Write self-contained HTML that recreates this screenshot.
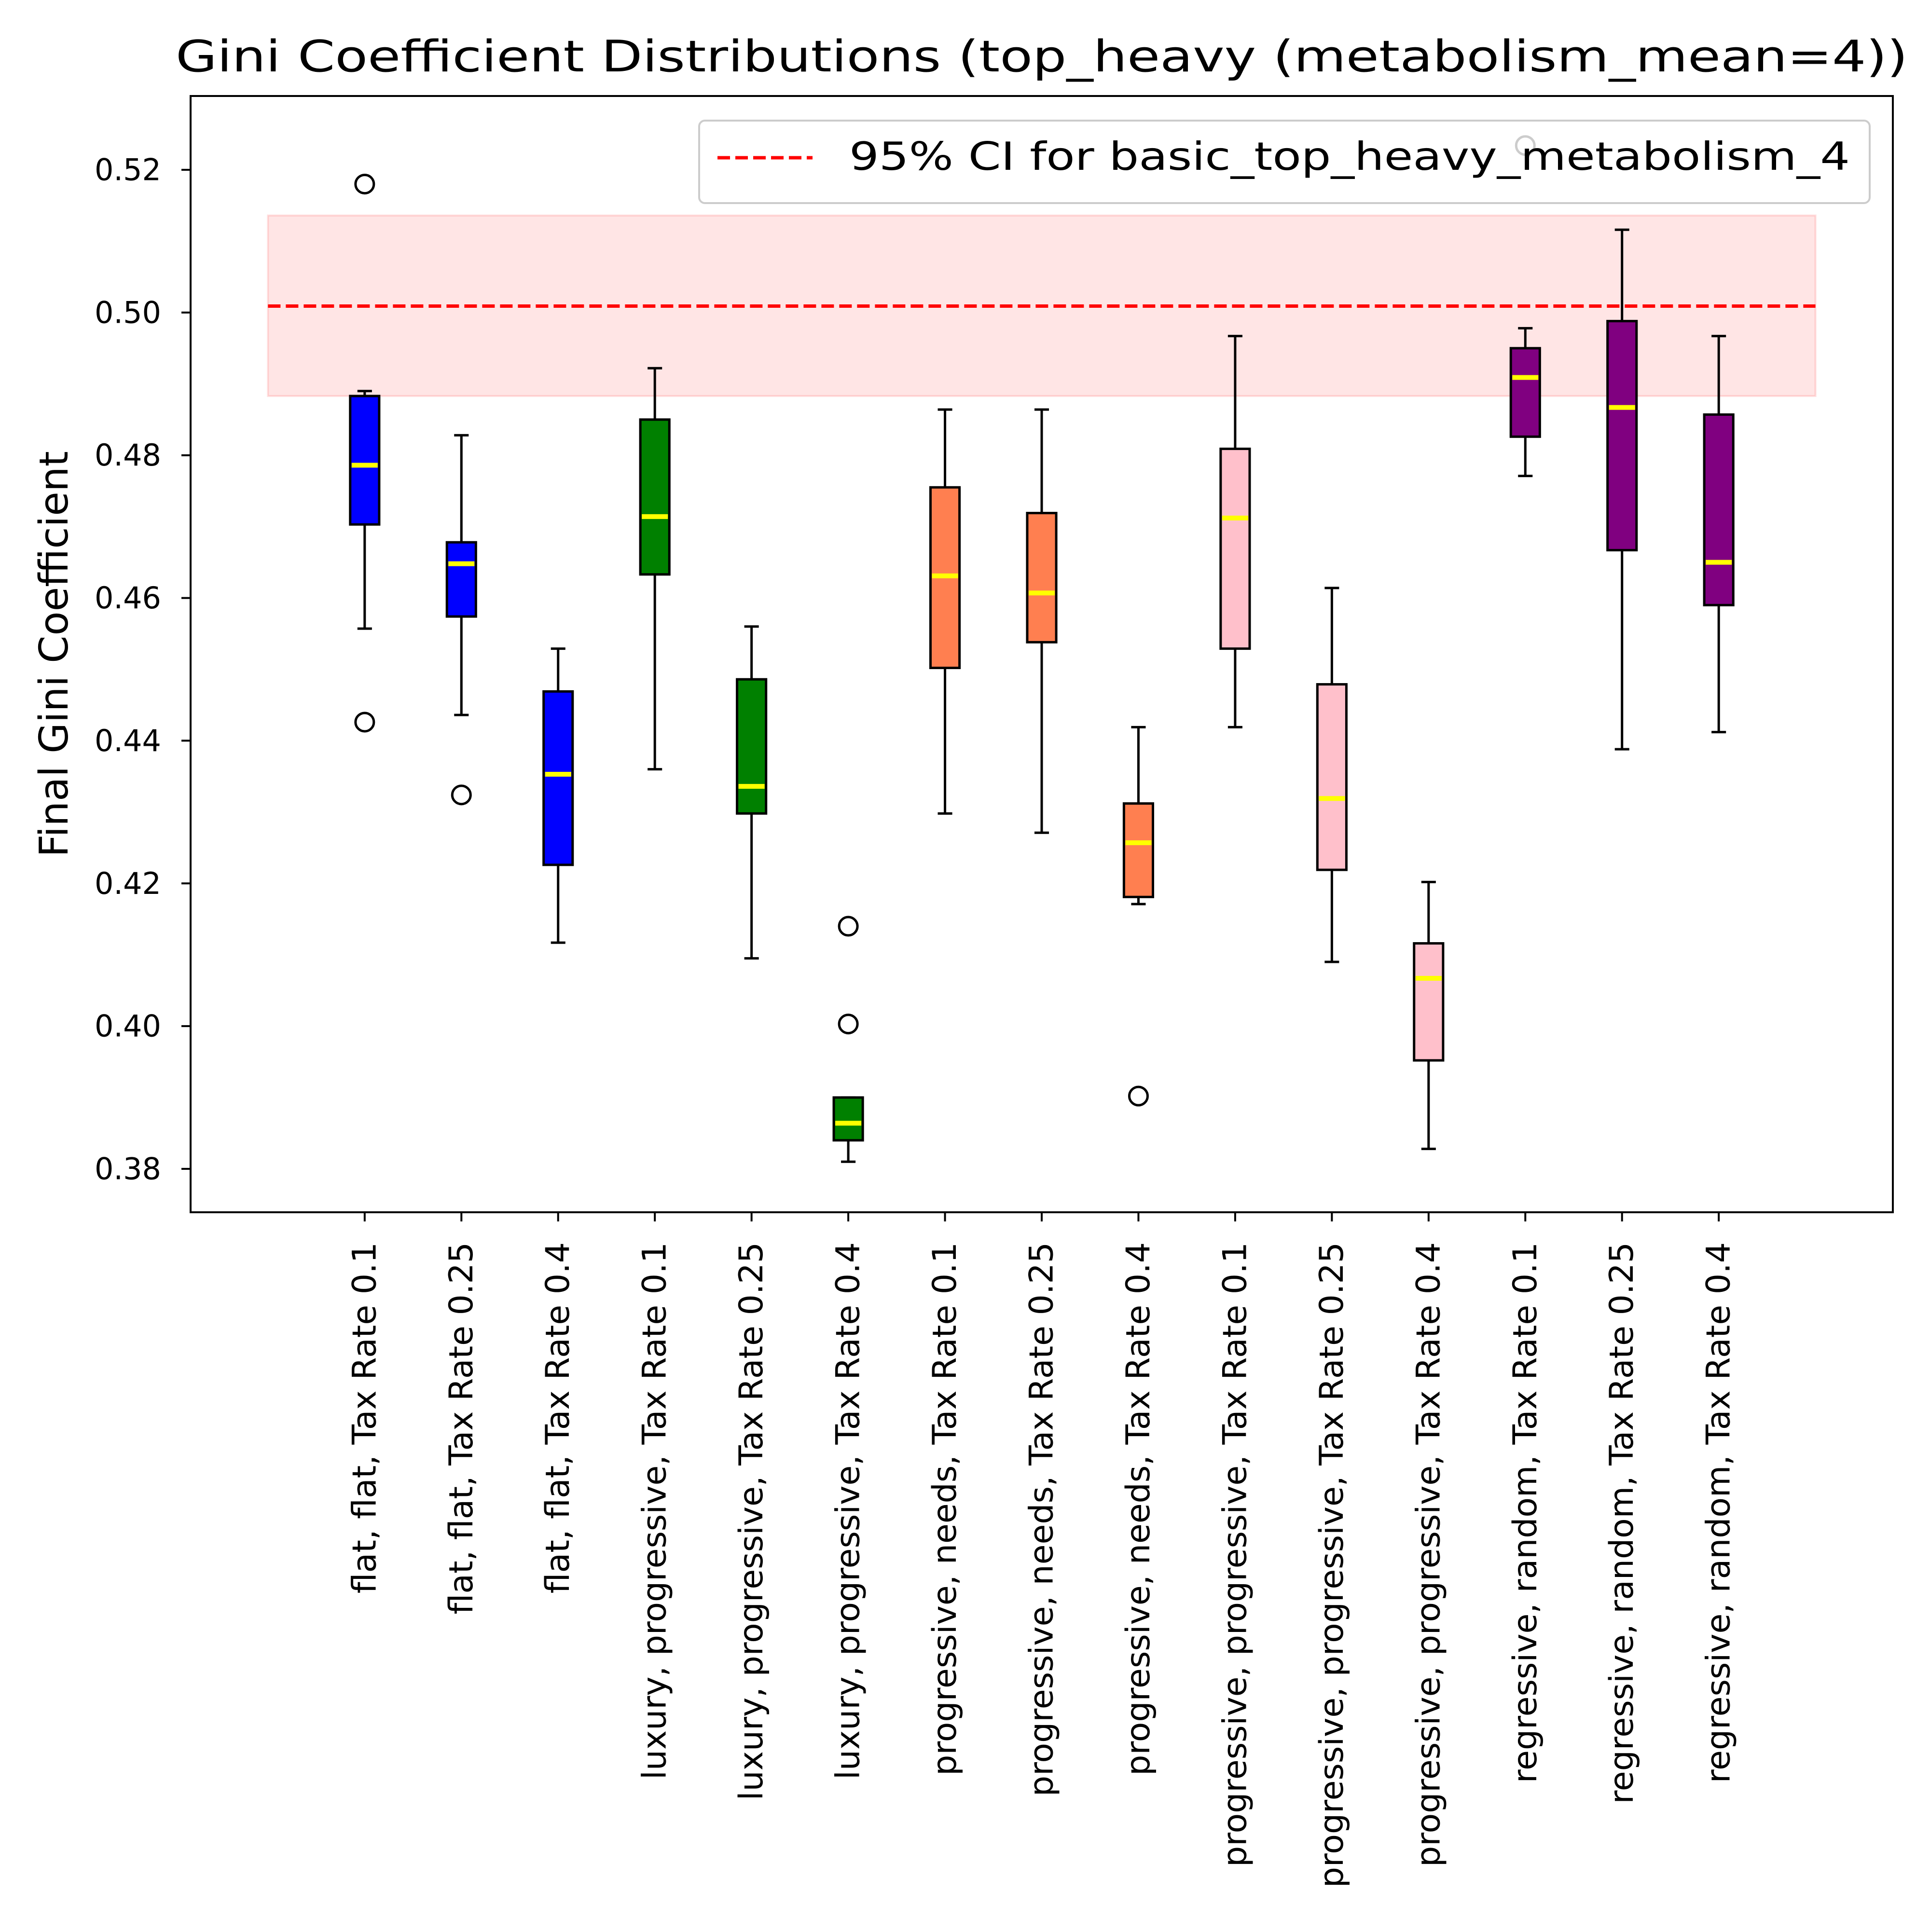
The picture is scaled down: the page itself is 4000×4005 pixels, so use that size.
<!DOCTYPE html>
<html><head><meta charset="utf-8"><style>
html,body{margin:0;padding:0;background:#fff;}
svg text{font-family:"DejaVu Sans","Liberation Sans",sans-serif;}
</style></head>
<body>
<svg id="chart" xmlns="http://www.w3.org/2000/svg" width="4000" height="4000" viewBox="0 0 4000 4000">
<rect x="0" y="0" width="4000" height="4000" fill="#fff"/>
<text x="2159" y="148" font-size="90" text-anchor="middle" textLength="3590" lengthAdjust="spacingAndGlyphs">Gini Coefficient Distributions (top_heavy (metabolism_mean=4))</text>
<text transform="translate(140,1356) rotate(-90)" font-size="82" text-anchor="middle">Final Gini Coefficient</text>
<g id="plot"></g>
</svg>
<script>
const categories = ["flat, flat, Tax Rate 0.1","flat, flat, Tax Rate 0.25","flat, flat, Tax Rate 0.4","luxury, progressive, Tax Rate 0.1","luxury, progressive, Tax Rate 0.25","luxury, progressive, Tax Rate 0.4","progressive, needs, Tax Rate 0.1","progressive, needs, Tax Rate 0.25","progressive, needs, Tax Rate 0.4","progressive, progressive, Tax Rate 0.1","progressive, progressive, Tax Rate 0.25","progressive, progressive, Tax Rate 0.4","regressive, random, Tax Rate 0.1","regressive, random, Tax Rate 0.25","regressive, random, Tax Rate 0.4"];
const colors = ["blue","blue","blue","green","green","green","coral","coral","coral","pink","pink","pink","purple","purple","purple"];
const whiskerLow = [0.4557,0.4436,0.4117,0.4360,0.4095,0.3810,0.4298,0.4271,0.4171,0.4419,0.4090,0.3828,0.4771,0.4388,0.4412];
const q1 = [0.4703,0.4574,0.4226,0.4633,0.4298,0.3840,0.4502,0.4538,0.4181,0.4529,0.4219,0.3952,0.4826,0.4667,0.4590];
const medians = [0.4786,0.4648,0.4353,0.4714,0.4336,0.3864,0.4631,0.4607,0.4257,0.4712,0.4319,0.4067,0.4909,0.4867,0.4650];
const q3 = [0.4883,0.4678,0.4469,0.4850,0.4486,0.3900,0.4755,0.4719,0.4312,0.4809,0.4479,0.4116,0.4950,0.4988,0.4857];
const whiskerHigh = [0.4890,0.4828,0.4529,0.4922,0.4560,0.3900,0.4864,0.4864,0.4419,0.4967,0.4614,0.4202,0.4978,0.5116,0.4967];
const outliers = [[0.518,0.4426],[0.4324],[],[],[],[0.4140,0.4003],[],[],[0.3902],[],[],[],[0.5234],[],[]];
const yTicks = [0.38,0.40,0.42,0.44,0.46,0.48,0.50,0.52];
const ciLow = 0.4883, ciMean = 0.5009, ciHigh = 0.5136;
const legendLabel = "95% CI for basic_top_heavy_metabolism_4";

const L=395,R=3923,T=199,B=2513;
const xMin=-0.8,xMax=16.8;
const X=v=>L+(v-xMin)/(xMax-xMin)*(R-L);
const Y=v=>352+(0.52-v)/0.14*(2423-352);
const NS="http://www.w3.org/2000/svg";
const g=document.getElementById('plot');
function mk(tag,attrs,parent){const e=document.createElementNS(NS,tag);for(const k in attrs)e.setAttribute(k,attrs[k]);(parent||g).appendChild(e);return e;}

let band=mk('rect',{x:X(0),y:Y(ciHigh),width:X(16)-X(0),height:Y(ciLow)-Y(ciHigh),fill:'rgba(255,0,0,0.1)',stroke:'rgba(255,0,0,0.12)','stroke-width':4});


let ciLine=mk('line',{x1:X(0),x2:X(16),y1:Y(ciMean),y2:Y(ciMean),stroke:'red','stroke-width':7,'stroke-dasharray':'26,11'});



const bw=0.3,cw=0.15;
categories.forEach((c,i)=>{
  const p=i+1,cx=X(p);
  const grp=mk('g',{});
  
  
  mk('line',{x1:cx,x2:cx,y1:Y(whiskerHigh[i]),y2:Y(q3[i]),stroke:'#000','stroke-width':5},grp);
  mk('line',{x1:cx,x2:cx,y1:Y(q1[i]),y2:Y(whiskerLow[i]),stroke:'#000','stroke-width':5},grp);
  mk('line',{x1:X(p-cw/2),x2:X(p+cw/2),y1:Y(whiskerHigh[i]),y2:Y(whiskerHigh[i]),stroke:'#000','stroke-width':5},grp);
  mk('line',{x1:X(p-cw/2),x2:X(p+cw/2),y1:Y(whiskerLow[i]),y2:Y(whiskerLow[i]),stroke:'#000','stroke-width':5},grp);
  mk('rect',{x:X(p-bw/2),y:Y(q3[i]),width:X(p+bw/2)-X(p-bw/2),height:Math.max(1,Y(q1[i])-Y(q3[i])),fill:colors[i],stroke:'#000','stroke-width':5},grp);
  mk('line',{x1:X(p-bw/2)+3,x2:X(p+bw/2)-3,y1:Y(medians[i]),y2:Y(medians[i]),stroke:'yellow','stroke-width':10},grp);
  outliers[i].forEach(o=>{
    const c2=mk('circle',{cx:cx,cy:Y(o),r:19,fill:'none',stroke:'#000','stroke-width':5},grp);
    
    
  });
  mk('line',{x1:cx,x2:cx,y1:B,y2:B+19,stroke:'#000','stroke-width':4});
  const t=mk('text',{transform:`translate(${cx},${B+62}) rotate(-90)`,'font-size':68,'text-anchor':'end','dominant-baseline':'central'});
  t.textContent=c;
  
  
});

yTicks.forEach(v=>{
  mk('line',{x1:L-19,x2:L,y1:Y(v),y2:Y(v),stroke:'#000','stroke-width':4});
  const t=mk('text',{x:334,y:Y(v),'font-size':62,'text-anchor':'end','dominant-baseline':'central'});
  t.textContent=v.toFixed(2);
  
  
});

let frame=mk('rect',{x:L,y:T,width:R-L,height:B-T,fill:'none',stroke:'#000','stroke-width':4});



const lg=mk('g',{});


mk('rect',{x:1449,y:250,width:2426,height:171,rx:12,fill:'rgba(255,255,255,0.8)',stroke:'#ccc','stroke-width':4},lg);
mk('line',{x1:1487,x2:1684,y1:327,y2:327,stroke:'red','stroke-width':7,'stroke-dasharray':'26,11'},lg);
const lt=mk('text',{x:1760,y:352,'font-size':80,textLength:2074,lengthAdjust:'spacingAndGlyphs'},lg);
lt.textContent=legendLabel;


</script>
</body></html>
